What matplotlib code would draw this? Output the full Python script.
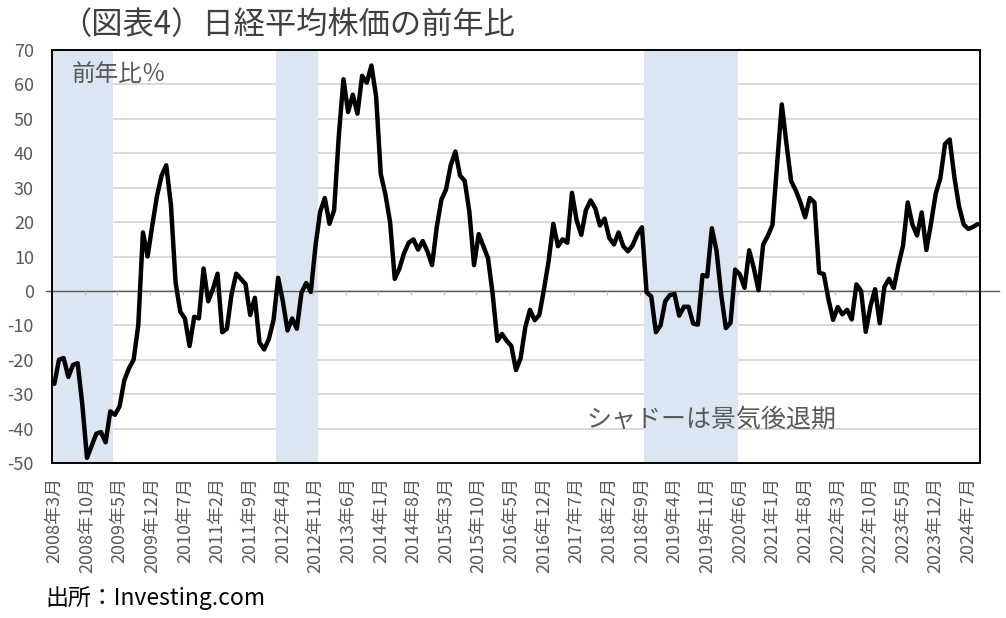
import matplotlib
matplotlib.use('Agg')
import matplotlib.pyplot as plt
import matplotlib.transforms as mtransforms
import numpy as np

plt.rcParams['font.family'] = ['Noto Sans CJK JP', 'DejaVu Sans']
plt.rcParams['axes.unicode_minus'] = False

# Nikkei 225, year-on-year change (%), monthly from 2008/3 to 2024/9
yoy = [
    -27.0, -20.0, -19.5, -25.0, -21.5, -21.0, -33.0, -48.5, -45.0, -41.5, -41.0, -44.0, -35.0,
    -36.0, -33.5, -26.0, -22.5, -20.0, -10.0,
    17.0, 10.0, 19.0, 27.5, 33.5, 36.5,
    25.0, 2.5, -6.0, -8.0, -16.0, -7.5, -8.0, 6.5, -3.0, 0.5, 5.0,
    -12.0, -11.0, -1.0, 5.0, 3.5, 2.0, -7.0, -2.0, -15.0, -17.0, -14.0, -8.5,
    3.8, -3.0, -11.5, -8.0, -11.0, -0.5, 2.3, -0.3, 13.0, 23.0, 27.0, 19.5, 23.5,
    45.0, 61.5, 52.0, 57.0, 51.5, 62.5, 60.5, 65.5, 56.5,
    34.0, 28.0, 20.0, 3.5, 6.5, 11.0, 14.0, 15.0, 12.0, 14.5, 11.5, 7.5,
    18.5, 26.5, 29.5, 36.5, 40.5, 33.5, 32.0, 23.0, 7.5, 16.5, 13.0, 9.5,
    -1.0, -14.5, -12.5, -14.5, -16.0, -23.0, -19.5, -10.5, -5.5, -8.5, -7.0, 0.5,
    8.7, 19.5, 13.0, 15.0, 14.0, 28.5, 20.5, 16.3, 23.5, 26.3, 24.0, 19.0, 21.0, 15.4,
    13.5, 17.0, 13.0, 11.5, 13.2, 16.4, 18.5,
    -0.4, -1.6, -12.0, -10.0, -3.0, -1.2, -0.9, -7.2, -4.6, -4.6, -9.5, -9.8, 4.6, 4.2,
    18.2, 11.7, -1.1, -10.8, -9.3, 6.2,
    4.8, 0.9, 11.8, 6.6, 0.2, 13.5, 16.0, 19.2, 37.0, 54.2, 42.7, 31.9, 29.2, 25.7, 21.4,
    27.0, 25.7, 5.3, 4.9,
    -2.4, -8.4, -4.7, -6.8, -5.5, -8.3, 1.9, 0.0, -11.9, -4.5, 0.5, -9.4, 1.2, 3.5, 0.8,
    7.5, 13.2, 25.7, 19.3, 16.1, 22.8, 11.9, 19.7, 28.2, 32.8, 42.7, 44.0, 33.1, 24.6,
    19.3, 18.0, 18.6, 19.4,
]

tick_labels = [
    '2008年3月', '2008年10月', '2009年5月', '2009年12月', '2010年7月', '2011年2月',
    '2011年9月', '2012年4月', '2012年11月', '2013年6月', '2014年1月', '2014年8月',
    '2015年3月', '2015年10月', '2016年5月', '2016年12月', '2017年7月', '2018年2月',
    '2018年9月', '2019年4月', '2019年11月', '2020年6月', '2021年1月', '2021年8月',
    '2022年3月', '2022年10月', '2023年5月', '2023年12月', '2024年7月',
]
tick_step = 7

# recession periods (first and last monthly index, inclusive)
recession_start = [0, 48, 127]
recession_end = [12, 56, 146]

W, H = 1006, 618
fig = plt.figure(figsize=(W / 100, H / 100), dpi=100)
ax = fig.add_axes([52 / W, 1 - 463 / H, (980 - 52) / W, (463 - 50) / H])

x = np.arange(len(yoy))
ax.set_xlim(-0.5, len(yoy) - 0.5)
ax.set_ylim(-50, 70)
ax.set_yticks(np.arange(-50, 71, 10))

ax.set_axisbelow(True)
ax.grid(axis='y', color='#D9D9D9', lw=1.4)
ax.grid(axis='x', visible=False)

for a, b in zip(recession_start, recession_end):
    ax.axvspan(a - 0.5, b + 0.5, color='#DCE6F2', lw=0, zorder=1)

ax.axhline(0, xmin=-0.006, xmax=1.02, color='#595959', lw=1.0, zorder=2, clip_on=False)
ax.vlines(np.arange(tick_step - 0.5, len(yoy), tick_step), -1.3, 0,
          color='#BFBFBF', lw=0.9, zorder=2)

ax.plot(x, yoy, color='black', lw=3.2, zorder=3, solid_joinstyle='round',
        solid_capstyle='round')

ax.set_xticks(x[::tick_step][:len(tick_labels)])
ax.set_xticklabels(tick_labels, rotation=90, color='#595959', fontsize=13)
offset = mtransforms.ScaledTranslation(5 / 100, 0, fig.dpi_scale_trans)
for lab in ax.get_xticklabels():
    lab.set_transform(lab.get_transform() + offset)
ax.tick_params(axis='x', length=0, pad=10)
ax.tick_params(axis='y', length=0, pad=13, labelsize=13, labelcolor='#595959')

for s in ax.spines.values():
    s.set_color('black')
    s.set_linewidth(1.4)
    s.set_zorder(4)

fig.text(60 / W, 1 - 25 / H, '（図表4）日経平均株価の前年比', fontsize=22.5,
         color='#404040', ha='left', va='center')
ax.text((72 - 52) / 928, (463 - 74) / 413, '前年比％', transform=ax.transAxes,
        fontsize=17, color='#595959', ha='left', va='center', zorder=5)
ax.text((586 - 52) / 928, (463 - 420) / 413, 'シャドーは景気後退期', transform=ax.transAxes,
        fontsize=18, color='#595959', ha='left', va='center', zorder=5)
fig.text(45 / W, 1 - 598 / H, '出所：Investing.com', fontsize=16.5, color='black',
         ha='left', va='center')

fig.savefig('out.png', dpi=100)
